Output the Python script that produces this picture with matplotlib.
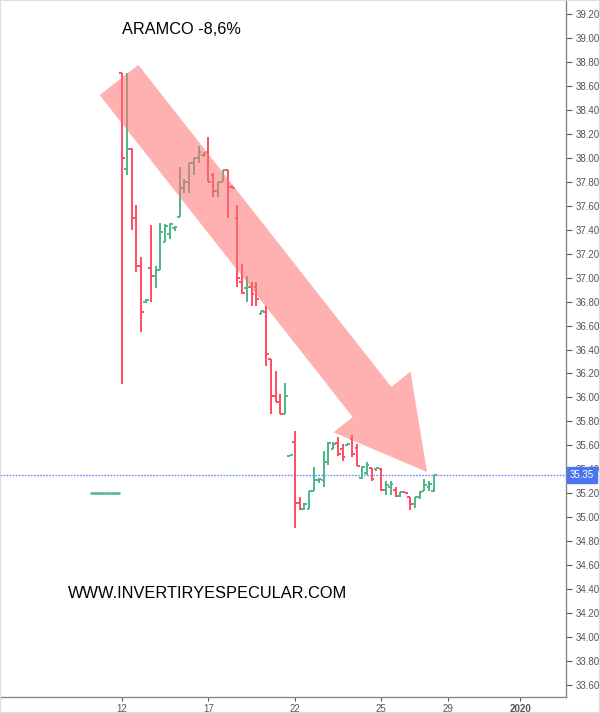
import matplotlib
matplotlib.use("Agg")
import matplotlib.pyplot as plt
import numpy as np
from matplotlib.patches import Polygon, Rectangle

plt.rcParams['font.family'] = ['Liberation Sans', 'DejaVu Sans']

# ---- data (hourly OHLC bars, Dec 2019) ----
opens = [38.71, 37.91, 38.07, 37.50, 37.10, 36.80, 37.08, 37.01, 37.06, 37.30, 37.36, 37.41,
         37.51, 37.75, 37.80, 37.96, 38.00, 38.02, 38.05, 37.86, 37.72, 37.80, 37.90, 37.76,
         37.50, 36.96, 36.91, 36.92, 36.92, 36.70, 36.71, 36.32, 36.01, 35.96, 35.86, 35.51,
         35.63, 35.12, 35.07, 35.07, 35.22, 35.31, 35.31, 35.46, 35.57, 35.62, 35.57, 35.60,
         35.65, 35.58, 35.33, 35.37, 35.41, 35.40, 35.40, 35.23, 35.25, 35.23, 35.18, 35.21,
         35.17, 35.11, 35.17, 35.22, 35.25, 35.22]
highs = [38.71, 38.71, 38.08, 37.61, 37.17, 36.82, 37.44, 37.10, 37.46, 37.45, 37.46, 37.43,
         37.92, 37.82, 37.96, 38.00, 38.10, 38.05, 38.17, 37.87, 37.80, 37.90, 37.90, 37.77,
         37.61, 37.11, 37.01, 36.96, 36.96, 36.72, 36.76, 36.32, 36.22, 36.03, 36.12, 35.52,
         35.72, 35.17, 35.12, 35.22, 35.42, 35.33, 35.55, 35.63, 35.63, 35.67, 35.61, 35.62,
         35.69, 35.61, 35.43, 35.46, 35.41, 35.41, 35.41, 35.30, 35.30, 35.25, 35.21, 35.21,
         35.17, 35.17, 35.22, 35.32, 35.30, 35.35]
lows = [36.11, 37.86, 37.40, 37.05, 36.55, 36.79, 36.80, 36.91, 37.06, 37.30, 37.32, 37.39,
        37.51, 37.71, 37.71, 37.86, 37.96, 38.01, 37.80, 37.67, 37.67, 37.80, 37.50, 37.75,
        36.92, 36.86, 36.80, 36.76, 36.76, 36.70, 36.26, 35.86, 35.96, 35.86, 35.86, 35.51,
        34.91, 35.06, 35.06, 35.07, 35.22, 35.29, 35.25, 35.44, 35.57, 35.51, 35.47, 35.60,
        35.50, 35.43, 35.32, 35.35, 35.30, 35.39, 35.22, 35.19, 35.19, 35.17, 35.17, 35.20,
        35.06, 35.08, 35.15, 35.22, 35.22, 35.21]
closes = [38.00, 38.07, 37.50, 37.10, 36.71, 36.81, 37.01, 37.06, 37.38, 37.43, 37.45, 37.42,
          37.75, 37.80, 37.96, 38.00, 38.05, 38.03, 37.80, 37.72, 37.80, 37.90, 37.76, 37.75,
          37.00, 36.87, 36.92, 36.86, 36.82, 36.72, 36.36, 36.01, 35.96, 35.86, 36.01, 35.52,
          35.12, 35.07, 35.11, 35.22, 35.31, 35.32, 35.46, 35.62, 35.61, 35.53, 35.50, 35.61,
          35.53, 35.43, 35.42, 35.44, 35.32, 35.41, 35.23, 35.27, 35.28, 35.18, 35.21, 35.20,
          35.11, 35.17, 35.21, 35.27, 35.28, 35.35]
pre_bars = [35.20, 35.20, 35.20, 35.20, 35.20, 35.20]   # flat pre-listing bars
last_price = 35.35
tick_bars = [0, 18, 36, 54, 68, 83]
tick_labels = ['12', '17', '22', '25', '29', '2020']
y_ticks = [round(33.6 + 0.2 * k, 2) for k in range(29)]
title = 'ARAMCO -8,6%'
website = 'WWW.INVERTIRYESPECULAR.COM'

RED = '#ff4d5e'
GREEN = '#4db886'

fig = plt.figure(figsize=(6.0, 7.13), dpi=100)
ax = fig.add_axes([0.0, 1 - 697 / 713, 566 / 600, 697 / 713])

x = np.arange(len(opens))
o = np.array(opens); h = np.array(highs); l = np.array(lows); c = np.array(closes)
cols = [GREEN if cc >= oo else RED for oo, cc in zip(o, c)]
tw = 0.55
lw = 1.4
ax.vlines(x, l, h, colors=cols, lw=lw, zorder=3)
ax.hlines(o, x - tw, x, colors=cols, lw=lw, zorder=3)
ax.hlines(c, x, x + tw, colors=cols, lw=lw, zorder=3)

xp = -np.arange(len(pre_bars), 0, -1)
ax.hlines(pre_bars, xp - tw, xp + tw, colors=GREEN, lw=1.8, zorder=3)

# last price line
ax.axhline(last_price, color='#6a8cf5', lw=1.0, ls=(0, (1.2, 1.0)), zorder=2)

ax.set_xlim(-25.4, 92.5)
ax.set_ylim(33.50, 39.317)

ax.yaxis.tick_right()
ax.set_yticks(y_ticks)
ax.set_yticklabels([f'{v:.2f}' for v in y_ticks])
ax.set_xticks(tick_bars)
ax.set_xticklabels(tick_labels)
for lab in ax.get_xticklabels():
    if lab.get_text() == '2020':
        lab.set_fontweight('bold')
ax.tick_params(axis='y', labelsize=7, colors='#555555', length=4, width=0.8, pad=3)
ax.tick_params(axis='x', labelsize=7, colors='#555555', length=3, width=0.8, pad=2)
for s in ['left', 'top']:
    ax.spines[s].set_visible(False)
for s in ['right', 'bottom']:
    ax.spines[s].set_color('#888888')
    ax.spines[s].set_linewidth(1.0)

# price label box
ax.annotate(f'{last_price:.2f}', xy=(1.0, last_price), xycoords=('axes fraction', 'data'),
            xytext=(3, 0), textcoords='offset points', va='center', ha='left',
            fontsize=7, color='white',
            bbox=dict(boxstyle='square,pad=0.3', fc='#4a76ee', ec='#4a76ee'), zorder=10,
            annotation_clip=False)

# big translucent arrow (drawn in figure pixel space)
W, H = 600, 713
pts = [(138.3, 64.9), (391.3, 386.9), (410.5, 371.7), (427, 472), (333.5, 432.3),
       (352.7, 417.1), (99.7, 95.1)]
poly = Polygon([(px / W, 1 - py / H) for px, py in pts], closed=True,
               transform=fig.transFigure, facecolor='#ff7070', alpha=0.55,
               edgecolor='none', zorder=5)
fig.patches.append(poly)

fig.text(122 / W, 1 - 30 / H, title, fontsize=11.7, color='black', va='center', ha='left')
fig.text(68 / W, 1 - 594 / H, website, fontsize=11.8, color='black', va='center', ha='left')

fig.patches.append(Rectangle((0, 0), 1, 1, transform=fig.transFigure, fill=False,
                             edgecolor='#dddddd', lw=1.5))

fig.savefig('out.png', dpi=100)
